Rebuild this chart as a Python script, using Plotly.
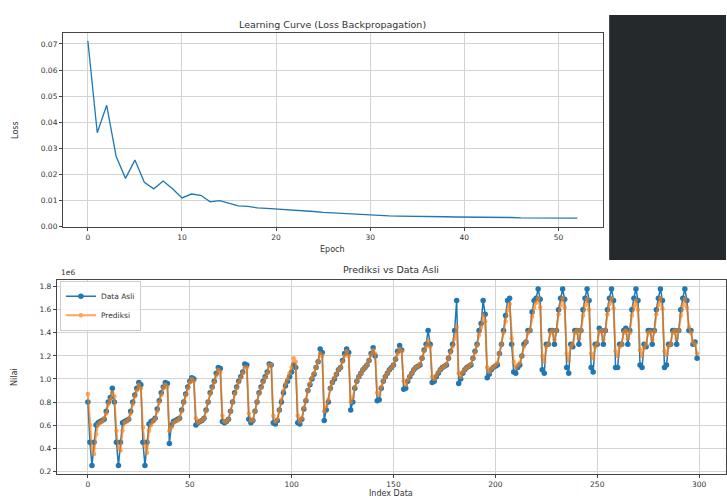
import plotly.graph_objects as go

# ---------------- data ----------------
loss = [0.0712, 0.0360, 0.0465, 0.0270, 0.0185, 0.0255, 0.0170, 0.0145, 0.0175, 0.0145,
        0.0110, 0.0125, 0.0120, 0.0095, 0.0100, 0.0090, 0.0080, 0.0078, 0.0072, 0.0070,
        0.0068, 0.0065, 0.0063, 0.0061, 0.0058, 0.0055, 0.0053, 0.0051, 0.0049, 0.0046,
        0.0043, 0.0042, 0.0041, 0.0040, 0.0040, 0.0039, 0.0039, 0.0038, 0.0038, 0.0037,
        0.0037, 0.0036, 0.0036, 0.0035, 0.0035, 0.0035, 0.0034, 0.0034, 0.0034, 0.0033,
        0.0033, 0.0033, 0.0033]
epochs = list(range(len(loss)))

# values in units of 1e6
data_asli = [
    0.80, 0.45, 0.25, 0.45, 0.60, 0.62, 0.63, 0.64, 0.65, 0.72, 0.80, 0.84, 0.92, 0.80,
    0.45, 0.25, 0.45, 0.62, 0.63, 0.64, 0.65, 0.72, 0.80, 0.86, 0.92, 0.97, 0.95,
    0.45, 0.25, 0.45, 0.61, 0.63, 0.64, 0.66, 0.74, 0.81, 0.88, 0.93, 0.97, 0.96,
    0.44, 0.60, 0.63, 0.64, 0.65, 0.66, 0.73, 0.80, 0.87, 0.93, 0.98, 1.01, 1.00,
    0.60, 0.62, 0.63, 0.64, 0.66, 0.73, 0.80, 0.88, 0.93, 0.98, 1.05, 1.10, 1.09,
    0.63, 0.62, 0.63, 0.65, 0.72, 0.80, 0.88, 0.93, 0.98, 1.02, 1.06, 1.13, 1.12,
    0.65, 0.62, 0.64, 0.72, 0.80, 0.88, 0.93, 0.98, 1.02, 1.06, 1.13, 1.12,
    0.62, 0.61, 0.64, 0.73, 0.80, 0.88, 0.94, 0.98, 1.02, 1.06, 1.12, 1.10,
    0.62, 0.61, 0.65, 0.74, 0.81, 0.90, 0.95, 1.00, 1.04, 1.10, 1.15, 1.26, 1.23,
    0.64, 0.73, 0.80, 0.92, 0.97, 1.00, 1.04, 1.08, 1.10, 1.16, 1.22, 1.26, 1.23,
    0.73, 0.80, 0.92, 0.98, 1.02, 1.05, 1.08, 1.10, 1.12, 1.16, 1.22, 1.27, 1.20,
    0.81, 0.82, 0.92, 0.98, 1.02, 1.05, 1.08, 1.10, 1.12, 1.17, 1.24, 1.29, 1.25,
    0.91, 0.92, 0.98, 1.02, 1.05, 1.08, 1.10, 1.11, 1.12, 1.18, 1.25, 1.30, 1.42, 1.30,
    0.97, 0.98, 1.02, 1.05, 1.08, 1.10, 1.11, 1.12, 1.18, 1.24, 1.30, 1.42, 1.68,
    0.96, 1.00, 1.05, 1.08, 1.10, 1.11, 1.12, 1.18, 1.24, 1.30, 1.42, 1.48, 1.68, 1.56,
    1.01, 1.04, 1.08, 1.10, 1.11, 1.12, 1.22, 1.30, 1.42, 1.55, 1.68, 1.70, 1.30,
    1.06, 1.05, 1.10, 1.12, 1.20, 1.30, 1.32, 1.42, 1.42, 1.58, 1.68, 1.70, 1.78,
    1.69, 1.08, 1.05, 1.30, 1.30, 1.42, 1.42, 1.30, 1.42, 1.60, 1.70, 1.78,
    1.69, 1.10, 1.05, 1.30, 1.28, 1.42, 1.42, 1.30, 1.42, 1.60, 1.70, 1.78,
    1.68, 1.10, 1.06, 1.30, 1.30, 1.44, 1.42, 1.30, 1.42, 1.60, 1.70, 1.78,
    1.68, 1.10, 1.10, 1.30, 1.30, 1.42, 1.44, 1.30, 1.42, 1.60, 1.70, 1.78,
    1.68, 1.12, 1.10, 1.30, 1.28, 1.42, 1.42, 1.30, 1.42, 1.60, 1.70, 1.78,
    1.68, 1.10, 1.12, 1.30, 1.30, 1.42, 1.42, 1.30, 1.42, 1.60, 1.70, 1.78,
    1.68, 1.42, 1.42, 1.30, 1.32, 1.18,
]

prediksi = [
    0.87, 0.60, 0.40, 0.35, 0.52, 0.60, 0.62, 0.63, 0.66, 0.70, 0.78, 0.82, 0.88, 0.85,
    0.55, 0.40, 0.38, 0.55, 0.62, 0.63, 0.65, 0.70, 0.78, 0.85, 0.90, 0.95, 0.92,
    0.58, 0.42, 0.36, 0.55, 0.60, 0.63, 0.65, 0.72, 0.80, 0.86, 0.92, 0.95, 0.93,
    0.55, 0.58, 0.62, 0.63, 0.64, 0.66, 0.72, 0.80, 0.86, 0.92, 0.97, 1.00, 0.98,
    0.66, 0.62, 0.63, 0.64, 0.66, 0.72, 0.80, 0.87, 0.92, 0.97, 1.03, 1.08, 1.06,
    0.68, 0.63, 0.63, 0.65, 0.72, 0.80, 0.87, 0.92, 0.97, 1.01, 1.05, 1.10, 1.10,
    0.70, 0.64, 0.64, 0.72, 0.80, 0.87, 0.92, 0.97, 1.01, 1.05, 1.12, 1.12,
    0.68, 0.63, 0.65, 0.73, 0.82, 0.90, 0.96, 1.00, 1.05, 1.10, 1.18, 1.15,
    0.68, 0.63, 0.66, 0.75, 0.82, 0.90, 0.96, 1.01, 1.05, 1.10, 1.15, 1.22, 1.20,
    0.72, 0.76, 0.82, 0.92, 0.97, 1.01, 1.04, 1.08, 1.10, 1.15, 1.20, 1.24, 1.20,
    0.80, 0.84, 0.93, 0.98, 1.02, 1.05, 1.08, 1.10, 1.12, 1.16, 1.21, 1.25, 1.22,
    0.88, 0.86, 0.93, 0.98, 1.02, 1.05, 1.08, 1.10, 1.12, 1.17, 1.22, 1.26, 1.24,
    0.98, 0.95, 0.99, 1.03, 1.05, 1.08, 1.10, 1.11, 1.13, 1.18, 1.24, 1.28, 1.33, 1.28,
    1.02, 1.00, 1.03, 1.06, 1.08, 1.10, 1.11, 1.13, 1.18, 1.23, 1.28, 1.35, 1.45,
    1.05, 1.02, 1.06, 1.08, 1.10, 1.11, 1.13, 1.18, 1.23, 1.29, 1.38, 1.45, 1.55, 1.50,
    1.10, 1.06, 1.09, 1.10, 1.12, 1.14, 1.22, 1.30, 1.40, 1.50, 1.60, 1.65, 1.35,
    1.15, 1.10, 1.12, 1.14, 1.20, 1.28, 1.32, 1.40, 1.42, 1.54, 1.62, 1.66, 1.70,
    1.62, 1.20, 1.15, 1.28, 1.30, 1.40, 1.42, 1.34, 1.42, 1.56, 1.64, 1.70,
    1.62, 1.22, 1.16, 1.28, 1.30, 1.40, 1.42, 1.35, 1.42, 1.55, 1.64, 1.69,
    1.60, 1.22, 1.18, 1.28, 1.31, 1.41, 1.42, 1.34, 1.42, 1.56, 1.65, 1.70,
    1.61, 1.24, 1.20, 1.28, 1.30, 1.40, 1.42, 1.35, 1.40, 1.55, 1.63, 1.68,
    1.60, 1.25, 1.20, 1.27, 1.30, 1.40, 1.41, 1.34, 1.41, 1.56, 1.64, 1.70,
    1.61, 1.24, 1.21, 1.28, 1.30, 1.40, 1.42, 1.35, 1.42, 1.55, 1.64, 1.69,
    1.62, 1.45, 1.40, 1.32, 1.30, 1.22,
]
index_data = list(range(len(data_asli)))

# ---------------- figure ----------------
W, H = 727, 503
BLUE = "#1f77b4"
ORANGE = "#ff7f0e"
FONT = "DejaVu Sans"
GRID = "#d3d3d3"
TXT = "#333333"

def px(xp):
    return xp / W

def py(yp):
    return 1 - yp / H

fig = go.Figure()

fig.add_trace(go.Scatter(x=epochs, y=loss, mode="lines",
                         line=dict(color=BLUE, width=1.3),
                         xaxis="x", yaxis="y", showlegend=False))

fig.add_trace(go.Scatter(x=index_data, y=data_asli, mode="lines+markers", name="Data Asli",
                         line=dict(color=BLUE, width=1.5),
                         marker=dict(color=BLUE, size=5.5, symbol="circle"),
                         xaxis="x2", yaxis="y2"))
fig.add_trace(go.Scatter(x=index_data, y=prediksi, mode="lines+markers", name="Prediksi",
                         line=dict(color=ORANGE, width=2),
                         marker=dict(color=ORANGE, size=4.5, symbol="circle"),
                         opacity=0.7,
                         xaxis="x2", yaxis="y2"))

axis_common = dict(showline=True, mirror=True, linecolor="#444444", linewidth=1,
                   showgrid=True, gridcolor=GRID, gridwidth=0.8,
                   ticks="outside", ticklen=3, tickcolor="#444444",
                   tickfont=dict(family=FONT, size=7.5, color=TXT), zeroline=False)

fig.update_layout(
    width=W, height=H,
    margin=dict(l=0, r=0, t=0, b=0),
    paper_bgcolor="white", plot_bgcolor="white",
    xaxis=dict(domain=[px(63), px(604)], range=[-2.65, 54.75], anchor="y",
               tickmode="array", tickvals=[0, 10, 20, 30, 40, 50], **axis_common),
    yaxis=dict(domain=[py(229), py(33)], range=[-0.0002, 0.0743], anchor="x",
               tickmode="array", tickvals=[0, 0.01, 0.02, 0.03, 0.04, 0.05, 0.06, 0.07],
               tickformat=".2f", **axis_common),
    xaxis2=dict(domain=[px(57), 1.0], range=[-15.2, 313.2], anchor="y2",
                tickmode="array", tickvals=[0, 50, 100, 150, 200, 250, 300], **axis_common),
    yaxis2=dict(domain=[py(478), py(282)], range=[0.174, 1.86], anchor="x2",
                tickmode="array", tickvals=[0.2, 0.4, 0.6, 0.8, 1.0, 1.2, 1.4, 1.6, 1.8],
                tickformat=".1f", **axis_common),
    legend=dict(x=px(60), y=py(283), xanchor="left", yanchor="top",
                bgcolor="rgba(255,255,255,0.85)", bordercolor="#cccccc", borderwidth=1,
                font=dict(family=FONT, size=7.5, color=TXT),
                tracegroupgap=0, itemwidth=30),
)

annotations = [
    dict(text="Learning Curve (Loss Backpropagation)", x=px(333), y=py(25), size=9.5),
    dict(text="Epoch", x=px(333), y=py(252), size=8),
    dict(text="Prediksi vs Data Asli", x=px(392), y=py(272), size=9.5),
    dict(text="Index Data", x=px(392), y=py(497), size=8),
    dict(text="1e6", x=px(68), y=py(275), size=7.5),
]
for a in annotations:
    fig.add_annotation(text=a["text"], x=a["x"], y=a["y"], xref="paper", yref="paper",
                       showarrow=False, xanchor="center", yanchor="middle",
                       font=dict(family=FONT, size=a["size"], color=TXT))
for txt, xx, yy in [("Loss", 16, 131), ("Nilai", 15, 380)]:
    fig.add_annotation(text=txt, x=px(xx), y=py(yy), xref="paper", yref="paper",
                       showarrow=False, textangle=-90, xanchor="center", yanchor="middle",
                       font=dict(family=FONT, size=8, color=TXT))

# dark panel on the right of the top row
fig.add_shape(type="rect", xref="paper", yref="paper",
              x0=px(610), x1=1.0, y0=py(262), y1=py(15),
              fillcolor="#26292c", line=dict(width=0), layer="above")

fig.write_html("out.html")
